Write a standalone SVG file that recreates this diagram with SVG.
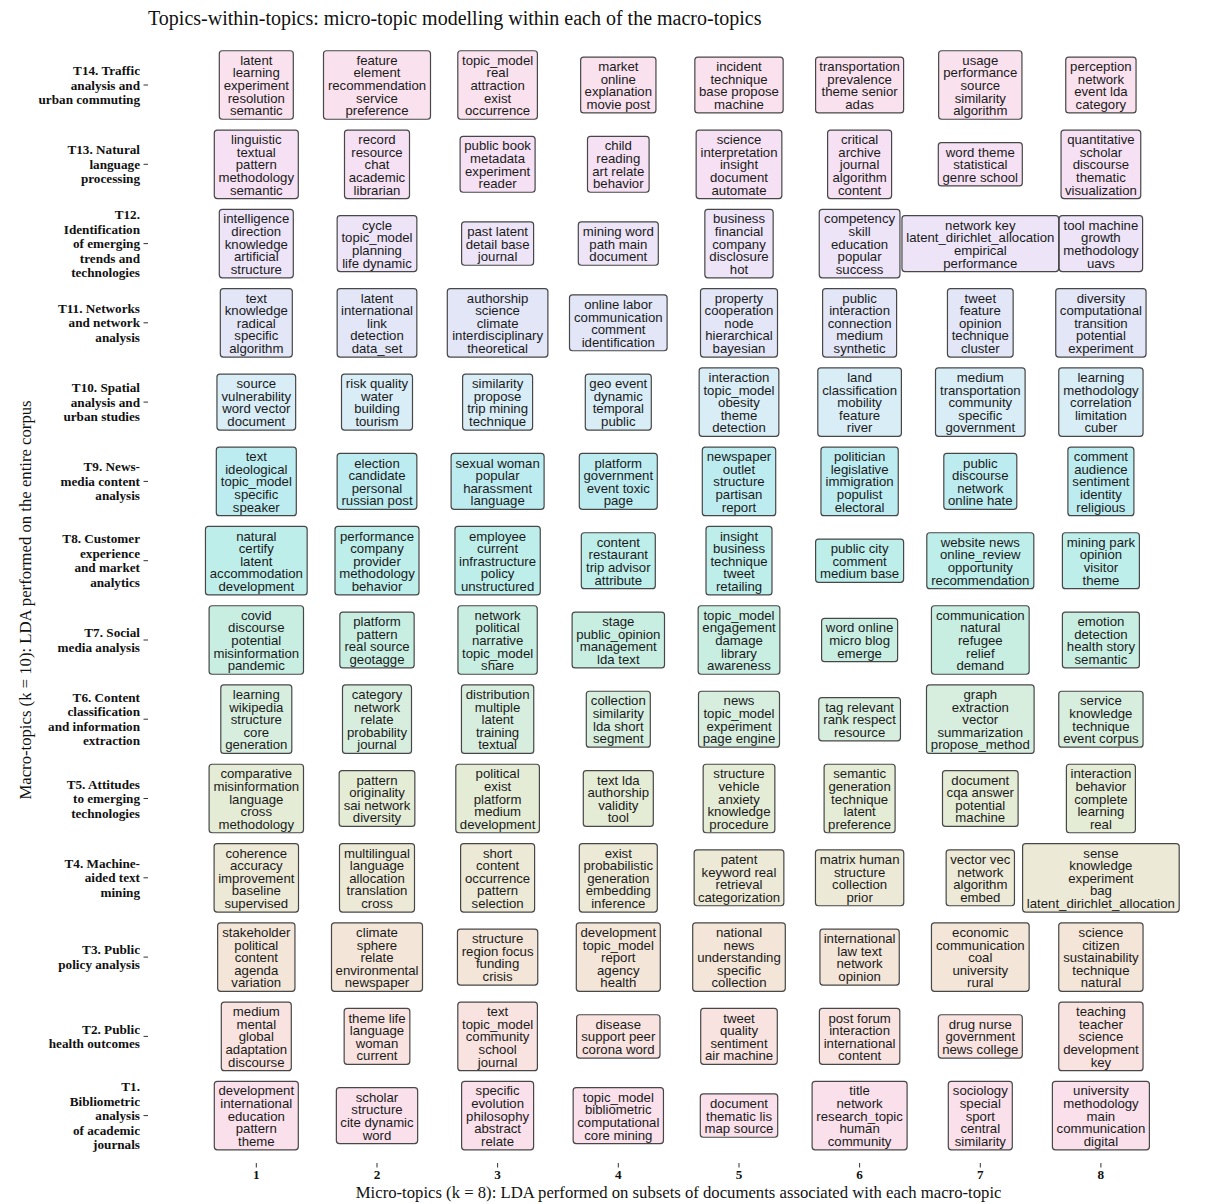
<svg xmlns="http://www.w3.org/2000/svg" width="1231" height="1204" viewBox="0 0 1231 1204">
<style>
.n rect{stroke:#474747;stroke-width:1.2;rx:3;ry:3}
.n text{font-family:"Liberation Sans",Arial,sans-serif;font-size:13.2px;fill:#1a1a1a;text-anchor:middle}
.lab{font-family:"Liberation Serif","Times New Roman",serif;font-size:13.2px;font-weight:bold;fill:#111;text-anchor:end}
.tk{font-family:"Liberation Serif","Times New Roman",serif;font-size:13.2px;font-weight:bold;fill:#111;text-anchor:middle}
.ax{font-family:"Liberation Serif","Times New Roman",serif;font-size:16.7px;fill:#111;text-anchor:middle}
.tick{stroke:#333;stroke-width:1}
.r14 rect{fill:#f9e1ee}.r13 rect{fill:#f5e1f3}.r12 rect{fill:#ede4f7}.r11 rect{fill:#e2e6f7}.r10 rect{fill:#d8edf6}.r9 rect{fill:#bdecf0}.r8 rect{fill:#bdeeea}.r7 rect{fill:#c8eee2}.r6 rect{fill:#d7eedf}.r5 rect{fill:#e4ecd6}.r4 rect{fill:#ece9d6}.r3 rect{fill:#f3e5d7}.r2 rect{fill:#f8e3e0}.r1 rect{fill:#f9e0ea}
</style>
<rect width="1231" height="1204" fill="#fff"/>
<text x="148" y="25" style="font-family:'Liberation Serif','Times New Roman',serif;font-size:20px;fill:#111">Topics-within-topics: micro-topic modelling within each of the macro-topics</text>
<text class="ax" transform="translate(31,600) rotate(-90)">Macro-topics (k = 10): LDA performed on the entire corpus</text>
<text class="ax" x="678.6" y="1198">Micro-topics (k = 8): LDA performed on subsets of documents associated with each macro-topic</text>

<g id="axis-ticks">
<line class="tick" x1="143.5" y1="85" x2="148" y2="85"/>
<line class="tick" x1="143.5" y1="164.3" x2="148" y2="164.3"/>
<line class="tick" x1="143.5" y1="243.6" x2="148" y2="243.6"/>
<line class="tick" x1="143.5" y1="322.8" x2="148" y2="322.8"/>
<line class="tick" x1="143.5" y1="402.1" x2="148" y2="402.1"/>
<line class="tick" x1="143.5" y1="481.4" x2="148" y2="481.4"/>
<line class="tick" x1="143.5" y1="560.7" x2="148" y2="560.7"/>
<line class="tick" x1="143.5" y1="640" x2="148" y2="640"/>
<line class="tick" x1="143.5" y1="719.2" x2="148" y2="719.2"/>
<line class="tick" x1="143.5" y1="798.5" x2="148" y2="798.5"/>
<line class="tick" x1="143.5" y1="877.8" x2="148" y2="877.8"/>
<line class="tick" x1="143.5" y1="957.1" x2="148" y2="957.1"/>
<line class="tick" x1="143.5" y1="1036.4" x2="148" y2="1036.4"/>
<line class="tick" x1="143.5" y1="1115.6" x2="148" y2="1115.6"/>
<line class="tick" x1="256.3" y1="1163" x2="256.3" y2="1167.5"/>
<line class="tick" x1="377" y1="1163" x2="377" y2="1167.5"/>
<line class="tick" x1="497.6" y1="1163" x2="497.6" y2="1167.5"/>
<line class="tick" x1="618.3" y1="1163" x2="618.3" y2="1167.5"/>
<line class="tick" x1="739" y1="1163" x2="739" y2="1167.5"/>
<line class="tick" x1="859.6" y1="1163" x2="859.6" y2="1167.5"/>
<line class="tick" x1="980.3" y1="1163" x2="980.3" y2="1167.5"/>
<line class="tick" x1="1100.9" y1="1163" x2="1100.9" y2="1167.5"/>
<text class="tk" x="256.3" y="1179">1</text>
<text class="tk" x="377" y="1179">2</text>
<text class="tk" x="497.6" y="1179">3</text>
<text class="tk" x="618.3" y="1179">4</text>
<text class="tk" x="739" y="1179">5</text>
<text class="tk" x="859.6" y="1179">6</text>
<text class="tk" x="980.3" y="1179">7</text>
<text class="tk" x="1100.9" y="1179">8</text>
</g>

<g id="row-labels">
<text class="lab" y="75"><tspan x="140">T14. Traffic</tspan><tspan x="140" dy="14.5">analysis and</tspan><tspan x="140" dy="14.5">urban commuting</tspan></text>
<text class="lab" y="154.3"><tspan x="140">T13. Natural</tspan><tspan x="140" dy="14.5">language</tspan><tspan x="140" dy="14.5">processing</tspan></text>
<text class="lab" y="219.1"><tspan x="140">T12.</tspan><tspan x="140" dy="14.5">Identification</tspan><tspan x="140" dy="14.5">of emerging</tspan><tspan x="140" dy="14.5">trends and</tspan><tspan x="140" dy="14.5">technologies</tspan></text>
<text class="lab" y="312.8"><tspan x="140">T11. Networks</tspan><tspan x="140" dy="14.5">and network</tspan><tspan x="140" dy="14.5">analysis</tspan></text>
<text class="lab" y="392.1"><tspan x="140">T10. Spatial</tspan><tspan x="140" dy="14.5">analysis and</tspan><tspan x="140" dy="14.5">urban studies</tspan></text>
<text class="lab" y="471.4"><tspan x="140">T9. News-</tspan><tspan x="140" dy="14.5">media content</tspan><tspan x="140" dy="14.5">analysis</tspan></text>
<text class="lab" y="543.45"><tspan x="140">T8. Customer</tspan><tspan x="140" dy="14.5">experience</tspan><tspan x="140" dy="14.5">and market</tspan><tspan x="140" dy="14.5">analytics</tspan></text>
<text class="lab" y="637.25"><tspan x="140">T7. Social</tspan><tspan x="140" dy="14.5">media analysis</tspan></text>
<text class="lab" y="701.95"><tspan x="140">T6. Content</tspan><tspan x="140" dy="14.5">classification</tspan><tspan x="140" dy="14.5">and information</tspan><tspan x="140" dy="14.5">extraction</tspan></text>
<text class="lab" y="788.5"><tspan x="140">T5. Attitudes</tspan><tspan x="140" dy="14.5">to emerging</tspan><tspan x="140" dy="14.5">technologies</tspan></text>
<text class="lab" y="867.8"><tspan x="140">T4. Machine-</tspan><tspan x="140" dy="14.5">aided text</tspan><tspan x="140" dy="14.5">mining</tspan></text>
<text class="lab" y="954.35"><tspan x="140">T3. Public</tspan><tspan x="140" dy="14.5">policy analysis</tspan></text>
<text class="lab" y="1033.65"><tspan x="140">T2. Public</tspan><tspan x="140" dy="14.5">health outcomes</tspan></text>
<text class="lab" y="1091.1"><tspan x="140">T1.</tspan><tspan x="140" dy="14.5">Bibliometric</tspan><tspan x="140" dy="14.5">analysis</tspan><tspan x="140" dy="14.5">of academic</tspan><tspan x="140" dy="14.5">journals</tspan></text>
</g>

<g id="connectors"></g>

<!-- T14 -->
<g id="t14-1" class="n r14"><rect x="219.3" y="50.75" width="74" height="68.5"/><text y="64.8"><tspan x="256.3">latent</tspan><tspan x="256.3" dy="12.6">learning</tspan><tspan x="256.3" dy="12.6">experiment</tspan><tspan x="256.3" dy="12.6">resolution</tspan><tspan x="256.3" dy="12.6">semantic</tspan></text></g>
<g id="t14-2" class="n r14"><rect x="323.5" y="50.75" width="107" height="68.5"/><text y="64.8"><tspan x="377">feature</tspan><tspan x="377" dy="12.6">element</tspan><tspan x="377" dy="12.6">recommendation</tspan><tspan x="377" dy="12.6">service</tspan><tspan x="377" dy="12.6">preference</tspan></text></g>
<g id="t14-3" class="n r14"><rect x="457.8" y="50.75" width="79.6" height="68.5"/><text y="64.8"><tspan x="497.6">topic_model</tspan><tspan x="497.6" dy="12.6">real</tspan><tspan x="497.6" dy="12.6">attraction</tspan><tspan x="497.6" dy="12.6">exist</tspan><tspan x="497.6" dy="12.6">occurrence</tspan></text></g>
<g id="t14-4" class="n r14"><rect x="580.65" y="57.05" width="75.3" height="55.9"/><text y="71.1"><tspan x="618.3">market</tspan><tspan x="618.3" dy="12.6">online</tspan><tspan x="618.3" dy="12.6">explanation</tspan><tspan x="618.3" dy="12.6">movie post</tspan></text></g>
<g id="t14-5" class="n r14"><rect x="694.85" y="57.05" width="88.3" height="55.9"/><text y="71.1"><tspan x="739">incident</tspan><tspan x="739" dy="12.6">technique</tspan><tspan x="739" dy="12.6">base propose</tspan><tspan x="739" dy="12.6">machine</tspan></text></g>
<g id="t14-6" class="n r14"><rect x="815.6" y="57.05" width="88" height="55.9"/><text y="71.1"><tspan x="859.6">transportation</tspan><tspan x="859.6" dy="12.6">prevalence</tspan><tspan x="859.6" dy="12.6">theme senior</tspan><tspan x="859.6" dy="12.6">adas</tspan></text></g>
<g id="t14-7" class="n r14"><rect x="938.65" y="50.75" width="83.3" height="68.5"/><text y="64.8"><tspan x="980.3">usage</tspan><tspan x="980.3" dy="12.6">performance</tspan><tspan x="980.3" dy="12.6">source</tspan><tspan x="980.3" dy="12.6">similarity</tspan><tspan x="980.3" dy="12.6">algorithm</tspan></text></g>
<g id="t14-8" class="n r14"><rect x="1065.75" y="57.05" width="70.3" height="55.9"/><text y="71.1"><tspan x="1100.9">perception</tspan><tspan x="1100.9" dy="12.6">network</tspan><tspan x="1100.9" dy="12.6">event lda</tspan><tspan x="1100.9" dy="12.6">category</tspan></text></g>

<!-- T13 -->
<g id="t13-1" class="n r13"><rect x="214.3" y="130.05" width="84" height="68.5"/><text y="144.1"><tspan x="256.3">linguistic</tspan><tspan x="256.3" dy="12.6">textual</tspan><tspan x="256.3" dy="12.6">pattern</tspan><tspan x="256.3" dy="12.6">methodology</tspan><tspan x="256.3" dy="12.6">semantic</tspan></text></g>
<g id="t13-2" class="n r13"><rect x="344.5" y="130.05" width="65" height="68.5"/><text y="144.1"><tspan x="377">record</tspan><tspan x="377" dy="12.6">resource</tspan><tspan x="377" dy="12.6">chat</tspan><tspan x="377" dy="12.6">academic</tspan><tspan x="377" dy="12.6">librarian</tspan></text></g>
<g id="t13-3" class="n r13"><rect x="460.1" y="136.35" width="75" height="55.9"/><text y="150.4"><tspan x="497.6">public book</tspan><tspan x="497.6" dy="12.6">metadata</tspan><tspan x="497.6" dy="12.6">experiment</tspan><tspan x="497.6" dy="12.6">reader</tspan></text></g>
<g id="t13-4" class="n r13"><rect x="587.5" y="136.35" width="61.6" height="55.9"/><text y="150.4"><tspan x="618.3">child</tspan><tspan x="618.3" dy="12.6">reading</tspan><tspan x="618.3" dy="12.6">art relate</tspan><tspan x="618.3" dy="12.6">behavior</tspan></text></g>
<g id="t13-5" class="n r13"><rect x="696.15" y="130.05" width="85.7" height="68.5"/><text y="144.1"><tspan x="739">science</tspan><tspan x="739" dy="12.6">interpretation</tspan><tspan x="739" dy="12.6">insight</tspan><tspan x="739" dy="12.6">document</tspan><tspan x="739" dy="12.6">automate</tspan></text></g>
<g id="t13-6" class="n r13"><rect x="827.6" y="130.05" width="64" height="68.5"/><text y="144.1"><tspan x="859.6">critical</tspan><tspan x="859.6" dy="12.6">archive</tspan><tspan x="859.6" dy="12.6">journal</tspan><tspan x="859.6" dy="12.6">algorithm</tspan><tspan x="859.6" dy="12.6">content</tspan></text></g>
<g id="t13-7" class="n r13"><rect x="938.3" y="142.65" width="84" height="43.3"/><text y="156.7"><tspan x="980.3">word theme</tspan><tspan x="980.3" dy="12.6">statistical</tspan><tspan x="980.3" dy="12.6">genre school</tspan></text></g>
<g id="t13-8" class="n r13"><rect x="1061.05" y="130.05" width="79.7" height="68.5"/><text y="144.1"><tspan x="1100.9">quantitative</tspan><tspan x="1100.9" dy="12.6">scholar</tspan><tspan x="1100.9" dy="12.6">discourse</tspan><tspan x="1100.9" dy="12.6">thematic</tspan><tspan x="1100.9" dy="12.6">visualization</tspan></text></g>

<!-- T12 -->
<g id="t12-1" class="n r12"><rect x="219.3" y="209.35" width="74" height="68.5"/><text y="223.4"><tspan x="256.3">intelligence</tspan><tspan x="256.3" dy="12.6">direction</tspan><tspan x="256.3" dy="12.6">knowledge</tspan><tspan x="256.3" dy="12.6">artificial</tspan><tspan x="256.3" dy="12.6">structure</tspan></text></g>
<g id="t12-2" class="n r12"><rect x="337.15" y="215.65" width="79.7" height="55.9"/><text y="229.7"><tspan x="377">cycle</tspan><tspan x="377" dy="12.6">topic_model</tspan><tspan x="377" dy="12.6">planning</tspan><tspan x="377" dy="12.6">life dynamic</tspan></text></g>
<g id="t12-3" class="n r12"><rect x="461.6" y="221.95" width="72" height="43.3"/><text y="236"><tspan x="497.6">past latent</tspan><tspan x="497.6" dy="12.6">detail base</tspan><tspan x="497.6" dy="12.6">journal</tspan></text></g>
<g id="t12-4" class="n r12"><rect x="578.3" y="221.95" width="80" height="43.3"/><text y="236"><tspan x="618.3">mining word</tspan><tspan x="618.3" dy="12.6">path main</tspan><tspan x="618.3" dy="12.6">document</tspan></text></g>
<g id="t12-5" class="n r12"><rect x="704.85" y="209.35" width="68.3" height="68.5"/><text y="223.4"><tspan x="739">business</tspan><tspan x="739" dy="12.6">financial</tspan><tspan x="739" dy="12.6">company</tspan><tspan x="739" dy="12.6">disclosure</tspan><tspan x="739" dy="12.6">hot</tspan></text></g>
<g id="t12-6" class="n r12"><rect x="819.25" y="209.35" width="80.7" height="68.5"/><text y="223.4"><tspan x="859.6">competency</tspan><tspan x="859.6" dy="12.6">skill</tspan><tspan x="859.6" dy="12.6">education</tspan><tspan x="859.6" dy="12.6">popular</tspan><tspan x="859.6" dy="12.6">success</tspan></text></g>
<g id="t12-7" class="n r12"><rect x="901.95" y="215.65" width="156.7" height="55.9"/><text y="229.7"><tspan x="980.3">network key</tspan><tspan x="980.3" dy="12.6">latent_dirichlet_allocation</tspan><tspan x="980.3" dy="12.6">empirical</tspan><tspan x="980.3" dy="12.6">performance</tspan></text></g>
<g id="t12-8" class="n r12"><rect x="1059.2" y="215.65" width="83.4" height="55.9"/><text y="229.7"><tspan x="1100.9">tool machine</tspan><tspan x="1100.9" dy="12.6">growth</tspan><tspan x="1100.9" dy="12.6">methodology</tspan><tspan x="1100.9" dy="12.6">uavs</tspan></text></g>

<!-- T11 -->
<g id="t11-1" class="n r11"><rect x="220.3" y="288.55" width="72" height="68.5"/><text y="302.6"><tspan x="256.3">text</tspan><tspan x="256.3" dy="12.6">knowledge</tspan><tspan x="256.3" dy="12.6">radical</tspan><tspan x="256.3" dy="12.6">specific</tspan><tspan x="256.3" dy="12.6">algorithm</tspan></text></g>
<g id="t11-2" class="n r11"><rect x="337.15" y="288.55" width="79.7" height="68.5"/><text y="302.6"><tspan x="377">latent</tspan><tspan x="377" dy="12.6">international</tspan><tspan x="377" dy="12.6">link</tspan><tspan x="377" dy="12.6">detection</tspan><tspan x="377" dy="12.6">data_set</tspan></text></g>
<g id="t11-3" class="n r11"><rect x="447.3" y="288.55" width="100.6" height="68.5"/><text y="302.6"><tspan x="497.6">authorship</tspan><tspan x="497.6" dy="12.6">science</tspan><tspan x="497.6" dy="12.6">climate</tspan><tspan x="497.6" dy="12.6">interdisciplinary</tspan><tspan x="497.6" dy="12.6">theoretical</tspan></text></g>
<g id="t11-4" class="n r11"><rect x="569.5" y="294.85" width="97.6" height="55.9"/><text y="308.9"><tspan x="618.3">online labor</tspan><tspan x="618.3" dy="12.6">communication</tspan><tspan x="618.3" dy="12.6">comment</tspan><tspan x="618.3" dy="12.6">identification</tspan></text></g>
<g id="t11-5" class="n r11"><rect x="700.5" y="288.55" width="77" height="68.5"/><text y="302.6"><tspan x="739">property</tspan><tspan x="739" dy="12.6">cooperation</tspan><tspan x="739" dy="12.6">node</tspan><tspan x="739" dy="12.6">hierarchical</tspan><tspan x="739" dy="12.6">bayesian</tspan></text></g>
<g id="t11-6" class="n r11"><rect x="822.6" y="288.55" width="74" height="68.5"/><text y="302.6"><tspan x="859.6">public</tspan><tspan x="859.6" dy="12.6">interaction</tspan><tspan x="859.6" dy="12.6">connection</tspan><tspan x="859.6" dy="12.6">medium</tspan><tspan x="859.6" dy="12.6">synthetic</tspan></text></g>
<g id="t11-7" class="n r11"><rect x="947.45" y="288.55" width="65.7" height="68.5"/><text y="302.6"><tspan x="980.3">tweet</tspan><tspan x="980.3" dy="12.6">feature</tspan><tspan x="980.3" dy="12.6">opinion</tspan><tspan x="980.3" dy="12.6">technique</tspan><tspan x="980.3" dy="12.6">cluster</tspan></text></g>
<g id="t11-8" class="n r11"><rect x="1055.75" y="288.55" width="90.3" height="68.5"/><text y="302.6"><tspan x="1100.9">diversity</tspan><tspan x="1100.9" dy="12.6">computational</tspan><tspan x="1100.9" dy="12.6">transition</tspan><tspan x="1100.9" dy="12.6">potential</tspan><tspan x="1100.9" dy="12.6">experiment</tspan></text></g>

<!-- T10 -->
<g id="t10-1" class="n r10"><rect x="216.95" y="374.15" width="78.7" height="55.9"/><text y="388.2"><tspan x="256.3">source</tspan><tspan x="256.3" dy="12.6">vulnerability</tspan><tspan x="256.3" dy="12.6">word vector</tspan><tspan x="256.3" dy="12.6">document</tspan></text></g>
<g id="t10-2" class="n r10"><rect x="341.5" y="374.15" width="71" height="55.9"/><text y="388.2"><tspan x="377">risk quality</tspan><tspan x="377" dy="12.6">water</tspan><tspan x="377" dy="12.6">building</tspan><tspan x="377" dy="12.6">tourism</tspan></text></g>
<g id="t10-3" class="n r10"><rect x="462.6" y="374.15" width="70" height="55.9"/><text y="388.2"><tspan x="497.6">similarity</tspan><tspan x="497.6" dy="12.6">propose</tspan><tspan x="497.6" dy="12.6">trip mining</tspan><tspan x="497.6" dy="12.6">technique</tspan></text></g>
<g id="t10-4" class="n r10"><rect x="585.3" y="374.15" width="66" height="55.9"/><text y="388.2"><tspan x="618.3">geo event</tspan><tspan x="618.3" dy="12.6">dynamic</tspan><tspan x="618.3" dy="12.6">temporal</tspan><tspan x="618.3" dy="12.6">public</tspan></text></g>
<g id="t10-5" class="n r10"><rect x="699.15" y="367.85" width="79.7" height="68.5"/><text y="381.9"><tspan x="739">interaction</tspan><tspan x="739" dy="12.6">topic_model</tspan><tspan x="739" dy="12.6">obesity</tspan><tspan x="739" dy="12.6">theme</tspan><tspan x="739" dy="12.6">detection</tspan></text></g>
<g id="t10-6" class="n r10"><rect x="817.8" y="367.85" width="83.6" height="68.5"/><text y="381.9"><tspan x="859.6">land</tspan><tspan x="859.6" dy="12.6">classification</tspan><tspan x="859.6" dy="12.6">mobility</tspan><tspan x="859.6" dy="12.6">feature</tspan><tspan x="859.6" dy="12.6">river</tspan></text></g>
<g id="t10-7" class="n r10"><rect x="935.5" y="367.85" width="89.6" height="68.5"/><text y="381.9"><tspan x="980.3">medium</tspan><tspan x="980.3" dy="12.6">transportation</tspan><tspan x="980.3" dy="12.6">community</tspan><tspan x="980.3" dy="12.6">specific</tspan><tspan x="980.3" dy="12.6">government</tspan></text></g>
<g id="t10-8" class="n r10"><rect x="1058.75" y="367.85" width="84.3" height="68.5"/><text y="381.9"><tspan x="1100.9">learning</tspan><tspan x="1100.9" dy="12.6">methodology</tspan><tspan x="1100.9" dy="12.6">correlation</tspan><tspan x="1100.9" dy="12.6">limitation</tspan><tspan x="1100.9" dy="12.6">cuber</tspan></text></g>

<!-- T9 -->
<g id="t9-1" class="n r9"><rect x="216.3" y="447.15" width="80" height="68.5"/><text y="461.2"><tspan x="256.3">text</tspan><tspan x="256.3" dy="12.6">ideological</tspan><tspan x="256.3" dy="12.6">topic_model</tspan><tspan x="256.3" dy="12.6">specific</tspan><tspan x="256.3" dy="12.6">speaker</tspan></text></g>
<g id="t9-2" class="n r9"><rect x="337.15" y="453.45" width="79.7" height="55.9"/><text y="467.5"><tspan x="377">election</tspan><tspan x="377" dy="12.6">candidate</tspan><tspan x="377" dy="12.6">personal</tspan><tspan x="377" dy="12.6">russian post</tspan></text></g>
<g id="t9-3" class="n r9"><rect x="451.1" y="453.45" width="93" height="55.9"/><text y="467.5"><tspan x="497.6">sexual woman</tspan><tspan x="497.6" dy="12.6">popular</tspan><tspan x="497.6" dy="12.6">harassment</tspan><tspan x="497.6" dy="12.6">language</tspan></text></g>
<g id="t9-4" class="n r9"><rect x="579.3" y="453.45" width="78" height="55.9"/><text y="467.5"><tspan x="618.3">platform</tspan><tspan x="618.3" dy="12.6">government</tspan><tspan x="618.3" dy="12.6">event toxic</tspan><tspan x="618.3" dy="12.6">page</tspan></text></g>
<g id="t9-5" class="n r9"><rect x="702.3" y="447.15" width="73.4" height="68.5"/><text y="461.2"><tspan x="739">newspaper</tspan><tspan x="739" dy="12.6">outlet</tspan><tspan x="739" dy="12.6">structure</tspan><tspan x="739" dy="12.6">partisan</tspan><tspan x="739" dy="12.6">report</tspan></text></g>
<g id="t9-6" class="n r9"><rect x="820.95" y="447.15" width="77.3" height="68.5"/><text y="461.2"><tspan x="859.6">politician</tspan><tspan x="859.6" dy="12.6">legislative</tspan><tspan x="859.6" dy="12.6">immigration</tspan><tspan x="859.6" dy="12.6">populist</tspan><tspan x="859.6" dy="12.6">electoral</tspan></text></g>
<g id="t9-7" class="n r9"><rect x="943.8" y="453.45" width="73" height="55.9"/><text y="467.5"><tspan x="980.3">public</tspan><tspan x="980.3" dy="12.6">discourse</tspan><tspan x="980.3" dy="12.6">network</tspan><tspan x="980.3" dy="12.6">online hate</tspan></text></g>
<g id="t9-8" class="n r9"><rect x="1067.9" y="447.15" width="66" height="68.5"/><text y="461.2"><tspan x="1100.9">comment</tspan><tspan x="1100.9" dy="12.6">audience</tspan><tspan x="1100.9" dy="12.6">sentiment</tspan><tspan x="1100.9" dy="12.6">identity</tspan><tspan x="1100.9" dy="12.6">religious</tspan></text></g>

<!-- T8 -->
<g id="t8-1" class="n r8"><rect x="205.45" y="526.45" width="101.7" height="68.5"/><text y="540.5"><tspan x="256.3">natural</tspan><tspan x="256.3" dy="12.6">certify</tspan><tspan x="256.3" dy="12.6">latent</tspan><tspan x="256.3" dy="12.6">accommodation</tspan><tspan x="256.3" dy="12.6">development</tspan></text></g>
<g id="t8-2" class="n r8"><rect x="335" y="526.45" width="84" height="68.5"/><text y="540.5"><tspan x="377">performance</tspan><tspan x="377" dy="12.6">company</tspan><tspan x="377" dy="12.6">provider</tspan><tspan x="377" dy="12.6">methodology</tspan><tspan x="377" dy="12.6">behavior</tspan></text></g>
<g id="t8-3" class="n r8"><rect x="454.95" y="526.45" width="85.3" height="68.5"/><text y="540.5"><tspan x="497.6">employee</tspan><tspan x="497.6" dy="12.6">current</tspan><tspan x="497.6" dy="12.6">infrastructure</tspan><tspan x="497.6" dy="12.6">policy</tspan><tspan x="497.6" dy="12.6">unstructured</tspan></text></g>
<g id="t8-4" class="n r8"><rect x="581.3" y="532.75" width="74" height="55.9"/><text y="546.8"><tspan x="618.3">content</tspan><tspan x="618.3" dy="12.6">restaurant</tspan><tspan x="618.3" dy="12.6">trip advisor</tspan><tspan x="618.3" dy="12.6">attribute</tspan></text></g>
<g id="t8-5" class="n r8"><rect x="706" y="526.45" width="66" height="68.5"/><text y="540.5"><tspan x="739">insight</tspan><tspan x="739" dy="12.6">business</tspan><tspan x="739" dy="12.6">technique</tspan><tspan x="739" dy="12.6">tweet</tspan><tspan x="739" dy="12.6">retailing</tspan></text></g>
<g id="t8-6" class="n r8"><rect x="815.6" y="539.05" width="88" height="43.3"/><text y="553.1"><tspan x="859.6">public city</tspan><tspan x="859.6" dy="12.6">comment</tspan><tspan x="859.6" dy="12.6">medium base</tspan></text></g>
<g id="t8-7" class="n r8"><rect x="926.8" y="532.75" width="107" height="55.9"/><text y="546.8"><tspan x="980.3">website news</tspan><tspan x="980.3" dy="12.6">online_review</tspan><tspan x="980.3" dy="12.6">opportunity</tspan><tspan x="980.3" dy="12.6">recommendation</tspan></text></g>
<g id="t8-8" class="n r8"><rect x="1062.4" y="532.75" width="77" height="55.9"/><text y="546.8"><tspan x="1100.9">mining park</tspan><tspan x="1100.9" dy="12.6">opinion</tspan><tspan x="1100.9" dy="12.6">visitor</tspan><tspan x="1100.9" dy="12.6">theme</tspan></text></g>

<!-- T7 -->
<g id="t7-1" class="n r7"><rect x="209.1" y="605.75" width="94.4" height="68.5"/><text y="619.8"><tspan x="256.3">covid</tspan><tspan x="256.3" dy="12.6">discourse</tspan><tspan x="256.3" dy="12.6">potential</tspan><tspan x="256.3" dy="12.6">misinformation</tspan><tspan x="256.3" dy="12.6">pandemic</tspan></text></g>
<g id="t7-2" class="n r7"><rect x="339.85" y="612.05" width="74.3" height="55.9"/><text y="626.1"><tspan x="377">platform</tspan><tspan x="377" dy="12.6">pattern</tspan><tspan x="377" dy="12.6">real source</tspan><tspan x="377" dy="12.6">geotagge</tspan></text></g>
<g id="t7-3" class="n r7"><rect x="457.95" y="605.75" width="79.3" height="68.5"/><text y="619.8"><tspan x="497.6">network</tspan><tspan x="497.6" dy="12.6">political</tspan><tspan x="497.6" dy="12.6">narrative</tspan><tspan x="497.6" dy="12.6">topic_model</tspan><tspan x="497.6" dy="12.6">share</tspan></text></g>
<g id="t7-4" class="n r7"><rect x="572.1" y="612.05" width="92.4" height="55.9"/><text y="626.1"><tspan x="618.3">stage</tspan><tspan x="618.3" dy="12.6">public_opinion</tspan><tspan x="618.3" dy="12.6">management</tspan><tspan x="618.3" dy="12.6">lda text</tspan></text></g>
<g id="t7-5" class="n r7"><rect x="698.15" y="605.75" width="81.7" height="68.5"/><text y="619.8"><tspan x="739">topic_model</tspan><tspan x="739" dy="12.6">engagement</tspan><tspan x="739" dy="12.6">damage</tspan><tspan x="739" dy="12.6">library</tspan><tspan x="739" dy="12.6">awareness</tspan></text></g>
<g id="t7-6" class="n r7"><rect x="821.6" y="618.35" width="76" height="43.3"/><text y="632.4"><tspan x="859.6">word online</tspan><tspan x="859.6" dy="12.6">micro blog</tspan><tspan x="859.6" dy="12.6">emerge</tspan></text></g>
<g id="t7-7" class="n r7"><rect x="931.45" y="605.75" width="97.7" height="68.5"/><text y="619.8"><tspan x="980.3">communication</tspan><tspan x="980.3" dy="12.6">natural</tspan><tspan x="980.3" dy="12.6">refugee</tspan><tspan x="980.3" dy="12.6">relief</tspan><tspan x="980.3" dy="12.6">demand</tspan></text></g>
<g id="t7-8" class="n r7"><rect x="1062.4" y="612.05" width="77" height="55.9"/><text y="626.1"><tspan x="1100.9">emotion</tspan><tspan x="1100.9" dy="12.6">detection</tspan><tspan x="1100.9" dy="12.6">health story</tspan><tspan x="1100.9" dy="12.6">semantic</tspan></text></g>

<!-- T6 -->
<g id="t6-1" class="n r6"><rect x="220.8" y="684.95" width="71" height="68.5"/><text y="699"><tspan x="256.3">learning</tspan><tspan x="256.3" dy="12.6">wikipedia</tspan><tspan x="256.3" dy="12.6">structure</tspan><tspan x="256.3" dy="12.6">core</tspan><tspan x="256.3" dy="12.6">generation</tspan></text></g>
<g id="t6-2" class="n r6"><rect x="342.5" y="684.95" width="69" height="68.5"/><text y="699"><tspan x="377">category</tspan><tspan x="377" dy="12.6">network</tspan><tspan x="377" dy="12.6">relate</tspan><tspan x="377" dy="12.6">probability</tspan><tspan x="377" dy="12.6">journal</tspan></text></g>
<g id="t6-3" class="n r6"><rect x="461.45" y="684.95" width="72.3" height="68.5"/><text y="699"><tspan x="497.6">distribution</tspan><tspan x="497.6" dy="12.6">multiple</tspan><tspan x="497.6" dy="12.6">latent</tspan><tspan x="497.6" dy="12.6">training</tspan><tspan x="497.6" dy="12.6">textual</tspan></text></g>
<g id="t6-4" class="n r6"><rect x="586.3" y="691.25" width="64" height="55.9"/><text y="705.3"><tspan x="618.3">collection</tspan><tspan x="618.3" dy="12.6">similarity</tspan><tspan x="618.3" dy="12.6">lda short</tspan><tspan x="618.3" dy="12.6">segment</tspan></text></g>
<g id="t6-5" class="n r6"><rect x="698.5" y="691.25" width="81" height="55.9"/><text y="705.3"><tspan x="739">news</tspan><tspan x="739" dy="12.6">topic_model</tspan><tspan x="739" dy="12.6">experiment</tspan><tspan x="739" dy="12.6">page engine</tspan></text></g>
<g id="t6-6" class="n r6"><rect x="818.75" y="697.55" width="81.7" height="43.3"/><text y="711.6"><tspan x="859.6">tag relevant</tspan><tspan x="859.6" dy="12.6">rank respect</tspan><tspan x="859.6" dy="12.6">resource</tspan></text></g>
<g id="t6-7" class="n r6"><rect x="926.5" y="684.95" width="107.6" height="68.5"/><text y="699"><tspan x="980.3">graph</tspan><tspan x="980.3" dy="12.6">extraction</tspan><tspan x="980.3" dy="12.6">vector</tspan><tspan x="980.3" dy="12.6">summarization</tspan><tspan x="980.3" dy="12.6">propose_method</tspan></text></g>
<g id="t6-8" class="n r6"><rect x="1058.75" y="691.25" width="84.3" height="55.9"/><text y="705.3"><tspan x="1100.9">service</tspan><tspan x="1100.9" dy="12.6">knowledge</tspan><tspan x="1100.9" dy="12.6">technique</tspan><tspan x="1100.9" dy="12.6">event corpus</tspan></text></g>

<!-- T5 -->
<g id="t5-1" class="n r5"><rect x="209.1" y="764.25" width="94.4" height="68.5"/><text y="778.3"><tspan x="256.3">comparative</tspan><tspan x="256.3" dy="12.6">misinformation</tspan><tspan x="256.3" dy="12.6">language</tspan><tspan x="256.3" dy="12.6">cross</tspan><tspan x="256.3" dy="12.6">methodology</tspan></text></g>
<g id="t5-2" class="n r5"><rect x="339.15" y="770.55" width="75.7" height="55.9"/><text y="784.6"><tspan x="377">pattern</tspan><tspan x="377" dy="12.6">originality</tspan><tspan x="377" dy="12.6">sai network</tspan><tspan x="377" dy="12.6">diversity</tspan></text></g>
<g id="t5-3" class="n r5"><rect x="455.8" y="764.25" width="83.6" height="68.5"/><text y="778.3"><tspan x="497.6">political</tspan><tspan x="497.6" dy="12.6">exist</tspan><tspan x="497.6" dy="12.6">platform</tspan><tspan x="497.6" dy="12.6">medium</tspan><tspan x="497.6" dy="12.6">development</tspan></text></g>
<g id="t5-4" class="n r5"><rect x="583.3" y="770.55" width="70" height="55.9"/><text y="784.6"><tspan x="618.3">text lda</tspan><tspan x="618.3" dy="12.6">authorship</tspan><tspan x="618.3" dy="12.6">validity</tspan><tspan x="618.3" dy="12.6">tool</tspan></text></g>
<g id="t5-5" class="n r5"><rect x="703.15" y="764.25" width="71.7" height="68.5"/><text y="778.3"><tspan x="739">structure</tspan><tspan x="739" dy="12.6">vehicle</tspan><tspan x="739" dy="12.6">anxiety</tspan><tspan x="739" dy="12.6">knowledge</tspan><tspan x="739" dy="12.6">procedure</tspan></text></g>
<g id="t5-6" class="n r5"><rect x="824.1" y="764.25" width="71" height="68.5"/><text y="778.3"><tspan x="859.6">semantic</tspan><tspan x="859.6" dy="12.6">generation</tspan><tspan x="859.6" dy="12.6">technique</tspan><tspan x="859.6" dy="12.6">latent</tspan><tspan x="859.6" dy="12.6">preference</tspan></text></g>
<g id="t5-7" class="n r5"><rect x="942.5" y="770.55" width="75.6" height="55.9"/><text y="784.6"><tspan x="980.3">document</tspan><tspan x="980.3" dy="12.6">cqa answer</tspan><tspan x="980.3" dy="12.6">potential</tspan><tspan x="980.3" dy="12.6">machine</tspan></text></g>
<g id="t5-8" class="n r5"><rect x="1066.4" y="764.25" width="69" height="68.5"/><text y="778.3"><tspan x="1100.9">interaction</tspan><tspan x="1100.9" dy="12.6">behavior</tspan><tspan x="1100.9" dy="12.6">complete</tspan><tspan x="1100.9" dy="12.6">learning</tspan><tspan x="1100.9" dy="12.6">real</tspan></text></g>

<!-- T4 -->
<g id="t4-1" class="n r4"><rect x="214.1" y="843.55" width="84.4" height="68.5"/><text y="857.6"><tspan x="256.3">coherence</tspan><tspan x="256.3" dy="12.6">accuracy</tspan><tspan x="256.3" dy="12.6">improvement</tspan><tspan x="256.3" dy="12.6">baseline</tspan><tspan x="256.3" dy="12.6">supervised</tspan></text></g>
<g id="t4-2" class="n r4"><rect x="339.5" y="843.55" width="75" height="68.5"/><text y="857.6"><tspan x="377">multilingual</tspan><tspan x="377" dy="12.6">language</tspan><tspan x="377" dy="12.6">allocation</tspan><tspan x="377" dy="12.6">translation</tspan><tspan x="377" dy="12.6">cross</tspan></text></g>
<g id="t4-3" class="n r4"><rect x="460.6" y="843.55" width="74" height="68.5"/><text y="857.6"><tspan x="497.6">short</tspan><tspan x="497.6" dy="12.6">content</tspan><tspan x="497.6" dy="12.6">occurrence</tspan><tspan x="497.6" dy="12.6">pattern</tspan><tspan x="497.6" dy="12.6">selection</tspan></text></g>
<g id="t4-4" class="n r4"><rect x="579.3" y="843.55" width="78" height="68.5"/><text y="857.6"><tspan x="618.3">exist</tspan><tspan x="618.3" dy="12.6">probabilistic</tspan><tspan x="618.3" dy="12.6">generation</tspan><tspan x="618.3" dy="12.6">embedding</tspan><tspan x="618.3" dy="12.6">inference</tspan></text></g>
<g id="t4-5" class="n r4"><rect x="694.15" y="849.85" width="89.7" height="55.9"/><text y="863.9"><tspan x="739">patent</tspan><tspan x="739" dy="12.6">keyword real</tspan><tspan x="739" dy="12.6">retrieval</tspan><tspan x="739" dy="12.6">categorization</tspan></text></g>
<g id="t4-6" class="n r4"><rect x="815.45" y="849.85" width="88.3" height="55.9"/><text y="863.9"><tspan x="859.6">matrix human</tspan><tspan x="859.6" dy="12.6">structure</tspan><tspan x="859.6" dy="12.6">collection</tspan><tspan x="859.6" dy="12.6">prior</tspan></text></g>
<g id="t4-7" class="n r4"><rect x="946.15" y="849.85" width="68.3" height="55.9"/><text y="863.9"><tspan x="980.3">vector vec</tspan><tspan x="980.3" dy="12.6">network</tspan><tspan x="980.3" dy="12.6">algorithm</tspan><tspan x="980.3" dy="12.6">embed</tspan></text></g>
<g id="t4-8" class="n r4"><rect x="1022.6" y="843.55" width="156.6" height="68.5"/><text y="857.6"><tspan x="1100.9">sense</tspan><tspan x="1100.9" dy="12.6">knowledge</tspan><tspan x="1100.9" dy="12.6">experiment</tspan><tspan x="1100.9" dy="12.6">bag</tspan><tspan x="1100.9" dy="12.6">latent_dirichlet_allocation</tspan></text></g>

<!-- T3 -->
<g id="t3-1" class="n r3"><rect x="217.65" y="922.85" width="77.3" height="68.5"/><text y="936.9"><tspan x="256.3">stakeholder</tspan><tspan x="256.3" dy="12.6">political</tspan><tspan x="256.3" dy="12.6">content</tspan><tspan x="256.3" dy="12.6">agenda</tspan><tspan x="256.3" dy="12.6">variation</tspan></text></g>
<g id="t3-2" class="n r3"><rect x="331.5" y="922.85" width="91" height="68.5"/><text y="936.9"><tspan x="377">climate</tspan><tspan x="377" dy="12.6">sphere</tspan><tspan x="377" dy="12.6">relate</tspan><tspan x="377" dy="12.6">environmental</tspan><tspan x="377" dy="12.6">newspaper</tspan></text></g>
<g id="t3-3" class="n r3"><rect x="457.45" y="929.15" width="80.3" height="55.9"/><text y="943.2"><tspan x="497.6">structure</tspan><tspan x="497.6" dy="12.6">region focus</tspan><tspan x="497.6" dy="12.6">funding</tspan><tspan x="497.6" dy="12.6">crisis</tspan></text></g>
<g id="t3-4" class="n r3"><rect x="576.3" y="922.85" width="84" height="68.5"/><text y="936.9"><tspan x="618.3">development</tspan><tspan x="618.3" dy="12.6">topic_model</tspan><tspan x="618.3" dy="12.6">report</tspan><tspan x="618.3" dy="12.6">agency</tspan><tspan x="618.3" dy="12.6">health</tspan></text></g>
<g id="t3-5" class="n r3"><rect x="692.7" y="922.85" width="92.6" height="68.5"/><text y="936.9"><tspan x="739">national</tspan><tspan x="739" dy="12.6">news</tspan><tspan x="739" dy="12.6">understanding</tspan><tspan x="739" dy="12.6">specific</tspan><tspan x="739" dy="12.6">collection</tspan></text></g>
<g id="t3-6" class="n r3"><rect x="819.95" y="929.15" width="79.3" height="55.9"/><text y="943.2"><tspan x="859.6">international</tspan><tspan x="859.6" dy="12.6">law text</tspan><tspan x="859.6" dy="12.6">network</tspan><tspan x="859.6" dy="12.6">opinion</tspan></text></g>
<g id="t3-7" class="n r3"><rect x="931.45" y="922.85" width="97.7" height="68.5"/><text y="936.9"><tspan x="980.3">economic</tspan><tspan x="980.3" dy="12.6">communication</tspan><tspan x="980.3" dy="12.6">coal</tspan><tspan x="980.3" dy="12.6">university</tspan><tspan x="980.3" dy="12.6">rural</tspan></text></g>
<g id="t3-8" class="n r3"><rect x="1058.75" y="922.85" width="84.3" height="68.5"/><text y="936.9"><tspan x="1100.9">science</tspan><tspan x="1100.9" dy="12.6">citizen</tspan><tspan x="1100.9" dy="12.6">sustainability</tspan><tspan x="1100.9" dy="12.6">technique</tspan><tspan x="1100.9" dy="12.6">natural</tspan></text></g>

<!-- T2 -->
<g id="t2-1" class="n r2"><rect x="221.3" y="1002.15" width="70" height="68.5"/><text y="1016.2"><tspan x="256.3">medium</tspan><tspan x="256.3" dy="12.6">mental</tspan><tspan x="256.3" dy="12.6">global</tspan><tspan x="256.3" dy="12.6">adaptation</tspan><tspan x="256.3" dy="12.6">discourse</tspan></text></g>
<g id="t2-2" class="n r2"><rect x="344.15" y="1008.45" width="65.7" height="55.9"/><text y="1022.5"><tspan x="377">theme life</tspan><tspan x="377" dy="12.6">language</tspan><tspan x="377" dy="12.6">woman</tspan><tspan x="377" dy="12.6">current</tspan></text></g>
<g id="t2-3" class="n r2"><rect x="457.8" y="1002.15" width="79.6" height="68.5"/><text y="1016.2"><tspan x="497.6">text</tspan><tspan x="497.6" dy="12.6">topic_model</tspan><tspan x="497.6" dy="12.6">community</tspan><tspan x="497.6" dy="12.6">school</tspan><tspan x="497.6" dy="12.6">journal</tspan></text></g>
<g id="t2-4" class="n r2"><rect x="576.6" y="1014.75" width="83.4" height="43.3"/><text y="1028.8"><tspan x="618.3">disease</tspan><tspan x="618.3" dy="12.6">support peer</tspan><tspan x="618.3" dy="12.6">corona word</tspan></text></g>
<g id="t2-5" class="n r2"><rect x="700.7" y="1008.45" width="76.6" height="55.9"/><text y="1022.5"><tspan x="739">tweet</tspan><tspan x="739" dy="12.6">quality</tspan><tspan x="739" dy="12.6">sentiment</tspan><tspan x="739" dy="12.6">air machine</tspan></text></g>
<g id="t2-6" class="n r2"><rect x="819.4" y="1008.45" width="80.4" height="55.9"/><text y="1022.5"><tspan x="859.6">post forum</tspan><tspan x="859.6" dy="12.6">interaction</tspan><tspan x="859.6" dy="12.6">international</tspan><tspan x="859.6" dy="12.6">content</tspan></text></g>
<g id="t2-7" class="n r2"><rect x="938.3" y="1014.75" width="84" height="43.3"/><text y="1028.8"><tspan x="980.3">drug nurse</tspan><tspan x="980.3" dy="12.6">government</tspan><tspan x="980.3" dy="12.6">news college</tspan></text></g>
<g id="t2-8" class="n r2"><rect x="1058.75" y="1002.15" width="84.3" height="68.5"/><text y="1016.2"><tspan x="1100.9">teaching</tspan><tspan x="1100.9" dy="12.6">teacher</tspan><tspan x="1100.9" dy="12.6">science</tspan><tspan x="1100.9" dy="12.6">development</tspan><tspan x="1100.9" dy="12.6">key</tspan></text></g>

<!-- T1 -->
<g id="t1-1" class="n r1"><rect x="214.3" y="1081.35" width="84" height="68.5"/><text y="1095.4"><tspan x="256.3">development</tspan><tspan x="256.3" dy="12.6">international</tspan><tspan x="256.3" dy="12.6">education</tspan><tspan x="256.3" dy="12.6">pattern</tspan><tspan x="256.3" dy="12.6">theme</tspan></text></g>
<g id="t1-2" class="n r1"><rect x="336.35" y="1087.65" width="81.3" height="55.9"/><text y="1101.7"><tspan x="377">scholar</tspan><tspan x="377" dy="12.6">structure</tspan><tspan x="377" dy="12.6">cite dynamic</tspan><tspan x="377" dy="12.6">word</tspan></text></g>
<g id="t1-3" class="n r1"><rect x="461.6" y="1081.35" width="72" height="68.5"/><text y="1095.4"><tspan x="497.6">specific</tspan><tspan x="497.6" dy="12.6">evolution</tspan><tspan x="497.6" dy="12.6">philosophy</tspan><tspan x="497.6" dy="12.6">abstract</tspan><tspan x="497.6" dy="12.6">relate</tspan></text></g>
<g id="t1-4" class="n r1"><rect x="573.15" y="1087.65" width="90.3" height="55.9"/><text y="1101.7"><tspan x="618.3">topic_model</tspan><tspan x="618.3" dy="12.6">bibliometric</tspan><tspan x="618.3" dy="12.6">computational</tspan><tspan x="618.3" dy="12.6">core mining</tspan></text></g>
<g id="t1-5" class="n r1"><rect x="700.3" y="1093.95" width="77.4" height="43.3"/><text y="1108"><tspan x="739">document</tspan><tspan x="739" dy="12.6">thematic lis</tspan><tspan x="739" dy="12.6">map source</tspan></text></g>
<g id="t1-6" class="n r1"><rect x="812.1" y="1081.35" width="95" height="68.5"/><text y="1095.4"><tspan x="859.6">title</tspan><tspan x="859.6" dy="12.6">network</tspan><tspan x="859.6" dy="12.6">research_topic</tspan><tspan x="859.6" dy="12.6">human</tspan><tspan x="859.6" dy="12.6">community</tspan></text></g>
<g id="t1-7" class="n r1"><rect x="948.3" y="1081.35" width="64" height="68.5"/><text y="1095.4"><tspan x="980.3">sociology</tspan><tspan x="980.3" dy="12.6">special</tspan><tspan x="980.3" dy="12.6">sport</tspan><tspan x="980.3" dy="12.6">central</tspan><tspan x="980.3" dy="12.6">similarity</tspan></text></g>
<g id="t1-8" class="n r1"><rect x="1052.4" y="1081.35" width="97" height="68.5"/><text y="1095.4"><tspan x="1100.9">university</tspan><tspan x="1100.9" dy="12.6">methodology</tspan><tspan x="1100.9" dy="12.6">main</tspan><tspan x="1100.9" dy="12.6">communication</tspan><tspan x="1100.9" dy="12.6">digital</tspan></text></g>
</svg>
